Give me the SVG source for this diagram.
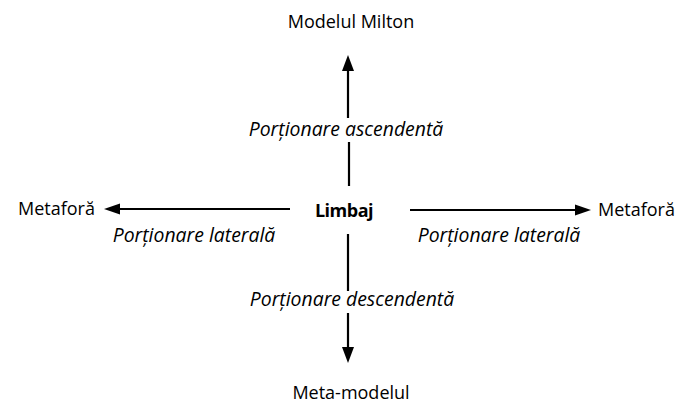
<svg xmlns="http://www.w3.org/2000/svg" width="677" height="406" viewBox="0 0 677 406">
<style>
.t{font-family:"Open Sans","Liberation Sans",sans-serif;font-size:18px;fill:#000}
.i{font-style:italic;font-size:19.4px}
.b{font-weight:bold}
.ln{stroke:#000;stroke-width:2.2;fill:none}
.ah{fill:#000}
</style>
<rect width="677" height="406" fill="#fff"/>
<g id="connectors">
<path class="ln" d="M348,118 V69"/>
<path class="ah" d="M342,71 L348,55 L354,71 Z"/>
<path class="ln" d="M349,142 V186"/>
<path class="ln" d="M348,234 V291"/>
<path class="ln" d="M348,313 V349"/>
<path class="ah" d="M342,347 L348,363 L354,347 Z"/>
<path class="ln" d="M290,209 H118"/>
<path class="ah" d="M120,203.5 L104,209 L120,214.5 Z"/>
<path class="ln" d="M410,210 H577"/>
<path class="ah" d="M575,204.5 L591,210 L575,215.5 Z"/>
</g>
<g id="top"><text class="t" x="351" y="28" text-anchor="middle">Modelul Milton</text></g>
<g id="center"><text class="t b" x="344" y="217" text-anchor="middle" letter-spacing="-0.5">Limbaj</text></g>
<g id="bottom"><text class="t" x="351" y="399" text-anchor="middle">Meta-modelul</text></g>
<g id="left"><text class="t" x="18" y="215">Metaforă</text></g>
<g id="right"><text class="t" x="598" y="216">Metaforă</text></g>
<g id="labels">
<text class="t i" x="346" y="136" text-anchor="middle">Porționare ascendentă</text>
<text class="t i" x="194" y="242" text-anchor="middle">Porționare laterală</text>
<text class="t i" x="499" y="242" text-anchor="middle">Porționare laterală</text>
<text class="t i" x="352" y="306" text-anchor="middle">Porționare descendentă</text>
</g>
</svg>
